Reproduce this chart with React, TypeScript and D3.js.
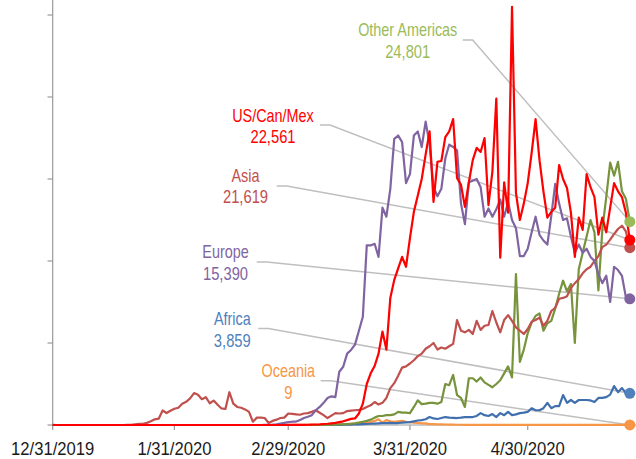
import React from 'react';
import * as d3 from 'd3';

const W = 636;
const H = 459;
const FONT = "'Liberation Sans', Arial, sans-serif";

const startDate = new Date(2019, 11, 31);
const tickLabels = ['12/31/2019', '1/31/2020', '2/29/2020', '3/31/2020', '4/30/2020'];
const yTicks = [0, 10000, 20000, 30000, 40000, 50000];

const asia = [
  27, 0, 0, 0, 0, 0, 0, 0, 0, 0,
  0, 0, 0, 0, 0, 0, 0, 0, 0, 17,
  20, 80, 150, 130, 260, 450, 690, 770, 1770, 1460,
  1740, 1980, 2100, 2590, 2830, 3240, 3890, 3700, 3150, 3390,
  2650, 2980, 2470, 2020, 1950, 4000, 2600, 2200, 2100, 1900,
  1600, 400, 900, 900, 850, 250, 500, 650, 850, 900,
  1400, 1350, 1300, 1250, 1400, 1450, 1600, 1800, 1500, 1200,
  850, 1150, 1450, 1400, 1450, 1700, 1750, 1800, 1850, 1950,
  2200, 2400, 2800, 2500, 2700, 3300, 4500, 5100, 6000, 7000,
  7150, 7500, 7900, 8400, 8700, 9300, 9600, 10000, 9200, 9450,
  9300, 9600, 9900, 12800, 11500, 11300, 11600, 11100, 12700, 11600,
  12100, 12200, 13900, 12500, 11300, 12800, 13400, 12700, 11900, 11500,
  11100, 11700, 12600, 12800, 13100, 12100, 12700, 13900, 14300, 15400,
  15500, 15700, 16700, 17300, 17800, 18500, 19000, 19300, 20000, 20600,
  21700, 22000, 22600, 23300, 23900, 24300, 23600, 21619,
];

const europe = [
  0, 0, 0, 0, 0, 0, 0, 0, 0, 0,
  0, 0, 0, 0, 0, 0, 0, 0, 0, 0,
  0, 0, 0, 0, 0, 0, 0, 0, 0, 0,
  0, 0, 0, 0, 0, 0, 0, 0, 0, 0,
  0, 0, 0, 0, 0, 0, 0, 0, 0, 0,
  0, 0, 0, 0, 10, 20, 40, 90, 180, 250,
  350, 400, 420, 600, 850, 1000, 1200, 1800, 2200, 2700,
  3300, 3500, 3400, 6500, 7100, 8700, 9150, 9800, 11500, 13200,
  21900, 21900, 22100, 20500, 26500, 25400, 28800, 34900, 35300, 34500,
  29500, 30600, 35300, 35800, 33900, 37000, 34200, 29000, 27900, 28800,
  32500, 34200, 33900, 33500, 27000, 24500, 29600, 29800, 30000, 29000,
  25400, 26400, 25400, 26300, 27500, 25400, 27200, 25000, 24000, 20600,
  20600, 21500, 23500, 25400, 23200, 22500, 22000, 25500, 29400, 27000,
  25000, 25200, 23000, 21000, 22000, 21000, 21500, 20500, 20000, 18400,
  17300, 18200, 15000, 19300, 18900, 18200, 15600, 15390,
];

const usCanMex = [
  0, 0, 0, 0, 0, 0, 0, 0, 0, 0,
  0, 0, 0, 0, 0, 0, 0, 0, 0, 0,
  0, 0, 0, 0, 0, 0, 0, 0, 0, 0,
  0, 0, 0, 0, 0, 0, 0, 0, 0, 0,
  0, 0, 0, 0, 0, 0, 0, 0, 0, 0,
  0, 0, 0, 0, 0, 0, 0, 0, 0, 0,
  5, 5, 10, 10, 20, 30, 40, 60, 80, 120,
  150, 200, 250, 350, 450, 600, 750, 800, 1400, 2600,
  5000, 6300, 7200, 8700, 11400, 9200, 15500, 17700, 19100, 20500,
  19300, 22800, 26000, 28000, 30000, 33000, 35800, 27200, 32100, 32200,
  35100, 35800, 37300, 30100, 29300, 26600, 29600, 32300, 33800, 33300,
  35000, 26800, 30900, 39800, 20400, 29600, 25900, 51000, 28300, 25000,
  27000, 29500, 33200, 37300, 32300, 28500, 25300, 26000, 26500, 31700,
  30000, 28900, 25900, 20500, 25300, 23800, 30600, 29000, 27800, 23200,
  25300, 23500, 26500, 29500, 28500, 27800, 25900, 22561,
];

const otherAmericas = [
  0, 0, 0, 0, 0, 0, 0, 0, 0, 0,
  0, 0, 0, 0, 0, 0, 0, 0, 0, 0,
  0, 0, 0, 0, 0, 0, 0, 0, 0, 0,
  0, 0, 0, 0, 0, 0, 0, 0, 0, 0,
  0, 0, 0, 0, 0, 0, 0, 0, 0, 0,
  0, 0, 0, 0, 0, 0, 0, 0, 0, 0,
  0, 0, 0, 0, 0, 0, 0, 0, 0, 0,
  20, 30, 40, 60, 80, 100, 150, 200, 300, 400,
  500, 650, 900, 1100, 1100, 1200, 1200, 1300, 1600, 1500,
  1500, 1450, 2200, 3000, 2550, 2600, 2700, 2700, 2600, 2800,
  5000, 4850, 6100, 3650, 3300, 2200, 5700, 5700, 5300, 5800,
  5200, 4900, 4600, 5000, 5450, 6300, 7150, 5800, 18400, 7700,
  9200, 11200, 12500, 13300, 13600, 11500, 12400, 12700, 14200, 16000,
  17600, 16300, 17200, 10000, 19000, 21000, 23000, 25000, 23500, 16400,
  23800, 27800, 32000, 30400, 32100, 28500, 27600, 24801,
];

const africa = [
  0, 0, 0, 0, 0, 0, 0, 0, 0, 0,
  0, 0, 0, 0, 0, 0, 0, 0, 0, 0,
  0, 0, 0, 0, 0, 0, 0, 0, 0, 0,
  0, 0, 0, 0, 0, 0, 0, 0, 0, 0,
  0, 0, 0, 0, 0, 0, 0, 0, 0, 0,
  0, 0, 0, 0, 0, 0, 0, 0, 0, 0,
  0, 0, 0, 0, 0, 0, 0, 0, 0, 0,
  0, 0, 0, 20, 30, 40, 50, 60, 80, 100,
  120, 150, 170, 200, 220, 240, 250, 230, 240, 300,
  330, 360, 450, 550, 600, 700, 970, 800, 730, 850,
  970, 900, 880, 850, 900, 970, 950, 970, 1100, 1450,
  1200, 1100, 1330, 970, 1450, 1200, 1600, 1200, 1300, 1450,
  1500, 1600, 2050, 1800, 1800, 2050, 2700, 2050, 2300, 2300,
  3650, 2700, 3050, 2700, 3050, 3050, 3050, 3000, 2800, 3300,
  3300, 3400, 3700, 4750, 4000, 4500, 3900, 3859,
];

const oceania = [
  0, 0, 0, 0, 0, 0, 0, 0, 0, 0,
  0, 0, 0, 0, 0, 0, 0, 0, 0, 0,
  0, 0, 0, 0, 0, 0, 0, 0, 0, 0,
  0, 0, 0, 0, 0, 0, 0, 0, 0, 0,
  0, 0, 0, 0, 0, 0, 0, 0, 0, 0,
  0, 0, 0, 0, 0, 0, 0, 0, 0, 0,
  3, 5, 5, 8, 10, 10, 15, 20, 25, 30,
  40, 50, 60, 80, 100, 120, 150, 180, 200, 250,
  300, 350, 500, 700, 300, 600, 450, 400, 450, 500,
  400, 350, 300, 250, 200, 200, 100, 100, 80, 70,
  60, 50, 40, 30, 30, 25, 20, 20, 20, 15,
  15, 15, 10, 10, 10, 15, 10, 10, 10, 10,
  10, 10, 10, 10, 10, 10, 10, 10, 10, 10,
  10, 10, 10, 10, 10, 10, 10, 10, 10, 10,
  10, 10, 10, 10, 10, 10, 10, 9,
];

type Series = {
  name: string;
  values: number[];
  line: string;
  label: string;
  cx: number;
  by: number;
  lx: number;
  ly: number;
};

const series: Series[] = [
  { name: 'Oceania', values: oceania, line: '#F79646', label: '#F79646', cx: 288.3, by: 377, lx: 320.7, ly: 380.7 },
  { name: 'Africa', values: africa, line: '#3F6FAE', label: '#4F81BD', cx: 232.3, by: 325, lx: 258.3, ly: 328.5 },
  { name: 'Other Americas', values: otherAmericas, line: '#77933C', label: '#9BBB59', cx: 407.7, by: 36, lx: 462.7, ly: 40 },
  { name: 'Asia', values: asia, line: '#C0504D', label: '#C0504D', cx: 245.5, by: 181.7, lx: 276.7, ly: 186 },
  { name: 'Europe', values: europe, line: '#8064A2', label: '#8064A2', cx: 225.5, by: 258.3, lx: 256.7, ly: 262 },
  { name: 'US/Can/Mex', values: usCanMex, line: '#FF0000', label: '#FF0000', cx: 273, by: 121.7, lx: 320, ly: 125 },
];

const dates = d3.range(148).map((i) => d3.timeDay.offset(startDate, i));
const parse = d3.timeParse('%m/%d/%Y');

function NarrowText(props: { x: number; y: number; sx: number; size: number; fill: string; children: React.ReactNode }) {
  return (
    <g transform={`translate(${props.x},${props.y}) scale(${props.sx},1)`}>
      <text x={0} y={0} textAnchor="middle" fontFamily={FONT} fontSize={props.size} fill={props.fill}>
        {props.children}
      </text>
    </g>
  );
}

export default function App() {
  const x = d3.scaleTime().domain([dates[0], dates[dates.length - 1]]).range([52.7, 629.8]);
  const y = d3.scaleLinear().domain([0, 50000]).range([425, 15]);
  const line = d3
    .line<number>()
    .x((_, i) => x(dates[i]))
    .y((v) => y(v));
  const fmt = d3.format(',');
  const axisColor = '#9a9a9a';

  return (
    <svg width={W} height={H} style={{ position: 'absolute', left: 0, top: 0, background: '#fff' }}>
      {/* y axis */}
      <line x1={52.7} x2={52.7} y1={0} y2={425} stroke={axisColor} strokeWidth={1.2} />
      {yTicks.map((t) => (
        <line key={t} x1={47.5} x2={52.7} y1={y(t)} y2={y(t)} stroke={axisColor} strokeWidth={1.2} />
      ))}
      {/* x axis */}
      <line x1={52.7} x2={636} y1={425} y2={425} stroke={axisColor} strokeWidth={1.2} />
      {tickLabels.map((t) => {
        const tx = x(parse(t) as Date);
        return (
          <g key={t}>
            <line x1={tx} x2={tx} y1={425} y2={430} stroke={axisColor} strokeWidth={1.2} />
            <NarrowText x={tx} y={455} sx={0.9} size={18.5} fill="#1a1a1a">
              {t}
            </NarrowText>
          </g>
        );
      })}
      {/* leaders */}
      {series.map((s) => {
        const last = s.values[s.values.length - 1];
        const ex = x(dates[s.values.length - 1]);
        const ey = y(last);
        return (
          <path
            key={'l' + s.name}
            d={`M${s.lx},${s.ly}L${s.lx + 10},${s.ly}L${ex},${ey}`}
            fill="none"
            stroke="#BFBFBF"
            strokeWidth={1.5}
          />
        );
      })}
      {/* lines */}
      {series.map((s) => (
        <path
          key={s.name}
          d={line(s.values) || ''}
          fill="none"
          stroke={s.line}
          strokeWidth={2.2}
          strokeLinejoin="round"
        />
      ))}
      {/* dots */}
      {series.map((s) => {
        const last = s.values[s.values.length - 1];
        return (
          <circle key={'d' + s.name} cx={x(dates[s.values.length - 1])} cy={y(last)} r={5.5} fill={s.label} />
        );
      })}
      {/* labels */}
      {series.map((s) => {
        const last = s.values[s.values.length - 1];
        return (
          <g key={'t' + s.name}>
            <NarrowText x={s.cx} y={s.by} sx={0.8} size={18} fill={s.label}>
              {s.name}
            </NarrowText>
            <NarrowText x={s.cx} y={s.by + 21.6} sx={0.82} size={18} fill={s.label}>
              {fmt(last)}
            </NarrowText>
          </g>
        );
      })}
    </svg>
  );
}
